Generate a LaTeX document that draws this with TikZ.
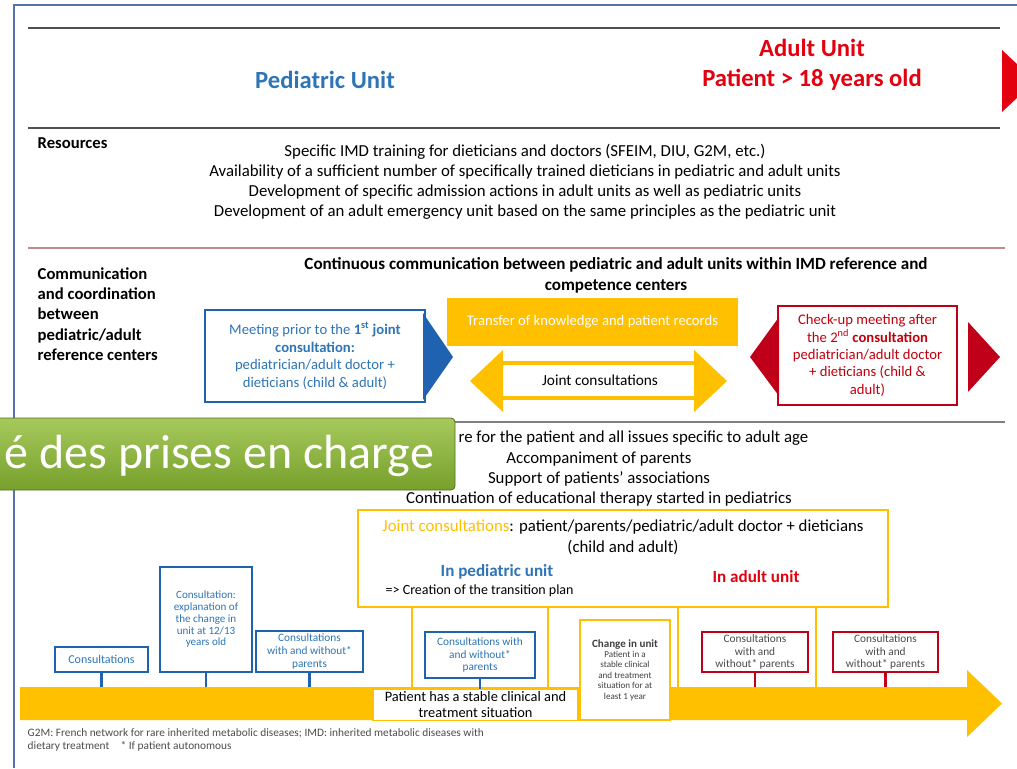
\documentclass[tikz,border=0pt]{standalone}
\usepackage{fontspec}
\setmainfont{Carlito}
\usetikzlibrary{positioning}

\definecolor{pedblue}{HTML}{2E75B6}
\definecolor{boxblue}{HTML}{1F62B0}
\definecolor{adred}{HTML}{E3000F}
\definecolor{boxred}{HTML}{C00018}
\definecolor{ylw}{HTML}{FFC000}
\definecolor{rulegray}{HTML}{505050}
\definecolor{frameblue}{HTML}{5573A8}
\definecolor{rosy}{HTML}{C28A8A}
\definecolor{bangreenlt}{HTML}{A6C95C}
\definecolor{bangreendk}{HTML}{77A02C}

\tikzset{
  hrule/.style={line width=1.4pt, rulegray},
  pedbox/.style={draw=boxblue, line width=1.6pt, fill=white, text=pedblue, align=center, inner sep=1pt},
  adbox/.style={draw=boxred, line width=1.6pt, fill=white, text=black!70, align=center, inner sep=1pt},
  ylwbox/.style={draw=ylw, line width=2pt, fill=white, align=center, inner sep=1pt},
  sz/.style 2 args={minimum width=#1*0.75pt, minimum height=#2*0.75pt},
  tiny/.style={font=\fontsize{8.5}{9.5}\selectfont},
  boxtxt/.style={font=\fontsize{11}{13.3}\selectfont},
}

\begin{document}
\begin{tikzpicture}[x=0.75pt, y=-0.75pt, font=\fontsize{12.6}{15}\selectfont]
\useasboundingbox (0,0) rectangle (1017,768);
\clip (0,0) rectangle (1017,768);

% frame and rules
\draw[frameblue, line width=1.2pt] (1017,5) -- (14,5) -- (14,768);
\draw[hrule] (28,28) -- (1000,28);
\draw[hrule] (28,128) -- (1000,128);
\draw[rosy, line width=0.8pt] (28,248) -- (1005,248);
\draw[gray, line width=0.8pt] (28,422) -- (1005,422);

% header
\node[pedblue, font=\bfseries\fontsize{18.5}{22}\selectfont] (pedunit) at (325,80) {Pediatric Unit};
\node[adred, align=center, font=\bfseries\fontsize{18.5}{22.5}\selectfont] (adunit) at (812,65) {Adult Unit\\Patient > 18 years old};
\fill[adred] (1002,50) -- (1035,81) -- (1002,112) -- cycle;

% resources
\node[anchor=north west, font=\bfseries\fontsize{12.5}{15}\selectfont] (reslbl) at (33,133) {Resources};
\node[align=center] (res) at (525,182) {Specific IMD training for dieticians and doctors (SFEIM, DIU, G2M, etc.)\\
  Availability of a sufficient number of specifically trained dieticians in pediatric and adult units\\
  Development of specific admission actions in adult units as well as pediatric units\\
  Development of an adult emergency unit based on the same principles as the pediatric unit};

% communication
\node[anchor=north west, align=left, font=\bfseries\fontsize{12.5}{15.2}\selectfont] (comlbl) at (33,263) {Communication\\and coordination\\between\\pediatric/adult\\reference centers};
\node[align=center, font=\bfseries\fontsize{12.8}{15.7}\selectfont] (contcom) at (616,275) {Continuous communication between pediatric and adult units within IMD reference and\\competence centers};

\node[pedbox, sz={220}{92}, boxtxt] (meet) at (315,356)
  {Meeting prior to the \textbf{1\textsuperscript{st} joint}\\\textbf{consultation:}\\pediatrician/adult doctor +\\dieticians (child \& adult)};
\fill[boxblue] (423,313) -- (453,357) -- (423,400) -- cycle;

\node[fill=ylw, text=white, sz={291}{48}, boxtxt] (transfer) at (592.5,322) {Transfer of knowledge and patient records};

\fill[ylw] (470,381) -- (503,350) -- (503,412) -- cycle;
\fill[ylw] (727,381) -- (694,350) -- (694,412) -- cycle;
\draw[ylw, line width=3pt] (501,363) -- (696,363);
\draw[ylw, line width=3pt] (501,398) -- (696,398);
\node[font=\fontsize{11.5}{13}\selectfont] (jointc) at (600,380.5) {Joint consultations};

\node[adbox, text=adred!85!black, sz={179}{99}, font=\fontsize{11}{13}\selectfont] (checkup) at (867.5,355.5)
  {Check-up meeting after\\the 2\textsuperscript{nd} \textbf{consultation}\\pediatrician/adult doctor\\+ dieticians (child \&\\adult)};
\fill[boxred] (779,317) -- (750,357) -- (779,396) -- cycle;
\fill[boxred] (968,322) -- (1000,357) -- (968,392) -- cycle;

% patient and family
\node[anchor=east] (care) at (813,438) {re for the patient and all issues specific to adult age};
\node (parents) at (599,459) {Accompaniment of parents};
\node (assoc) at (599,479) {Support of patients' associations};
\node (edu) at (599,499) {Continuation of educational therapy started in pediatrics};

\shade[top color=bangreenlt, bottom color=bangreendk, draw=bangreendk!70!black, line width=0.6pt, rounded corners=3pt]
  (-10,418) rectangle (455,490);
\node[anchor=base west, text=white, font=\fontsize{36}{40}\selectfont] (banner) at (0,468) {é des prises en charge};

% joint consultations box
\node[ylwbox, line width=2.2pt, sz={530}{97}, inner sep=0pt] (jbox) at (623,558.5) {};
\node[align=center, font=\fontsize{12.6}{15.7}\selectfont] (jtxt) at (623,537) {\textcolor{ylw}{Joint consultations}: patient/parents/pediatric/adult doctor + dieticians\\(child and adult)};
\node[pedblue, font=\bfseries\fontsize{12.8}{14}\selectfont] (inped) at (497,572) {In pediatric unit};
\node[anchor=west, font=\fontsize{10.5}{13}\selectfont] (plan) at (381,591) {=> Creation of the transition plan};
\node[adred, font=\bfseries\fontsize{12.8}{14}\selectfont] (inad) at (756,577) {In adult unit};
\foreach \xx in {412,548,678,816}
  \draw[ylw, line width=2.2pt] (\xx,607) -- (\xx,690);

% timeline
\fill[ylw] (20,687) -- (967,687) -- (967,670) -- (1002,703.5) -- (967,737) -- (967,720) -- (20,720) -- cycle;
\coordinate (tl) at (0,687);

\node[pedbox, sz={93}{25}, font=\fontsize{9}{11}\selectfont] (cons1) at (101.5,659.5) {Consultations};
\node[pedbox, sz={92}{105}, font=\fontsize{8.3}{8.8}\selectfont] (expl) at (206,619.5) {Consultation:\\explanation of\\the change in\\unit at 12/13\\years old};
\node[pedbox, sz={107}{41}, tiny] (cons2) at (309.5,651.5) {Consultations\\with and without*\\parents};
\node[pedbox, sz={110}{46}, tiny] (cons3) at (480,655) {Consultations with\\and without*\\parents};

\node[ylwbox, line width=0.9pt, sz={205}{31}, font=\fontsize{10.8}{12}\selectfont] (stable) at (475.5,705) {Patient has a stable clinical and\\treatment situation};
\node[ylwbox, line width=2pt, sz={90}{100}, font=\fontsize{6.8}{7.8}\selectfont, text=black!75] (change) at (625,670)
  {\textbf{\fontsize{8.3}{9.5}\selectfont Change in unit}\\Patient in a\\stable clinical\\and treatment\\situation for at\\least 1 year};

\node[adbox, sz={106}{40}, tiny] (cons4) at (755,652) {Consultations\\with and\\without* parents};
\node[adbox, sz={105}{40}, tiny] (cons5) at (885.5,652) {Consultations\\with and\\without* parents};

\draw[boxblue, line width=1.6pt] (cons1.south) -- (cons1.south |- tl);
\draw[boxblue, line width=1.6pt] (expl.south) -- (expl.south |- tl);
\draw[boxblue, line width=1.6pt] (cons2.south) -- (cons2.south |- tl);
\draw[boxblue, line width=1.6pt] (cons3.south) -- (stable.north -| cons3.south);
\draw[boxred, line width=1.6pt] (cons4.south) -- (cons4.south |- tl);
\draw[boxred, line width=1.6pt] (cons5.south) -- (cons5.south |- tl);

% footnote
\node[anchor=north west, align=left, text=black!70, font=\fontsize{8.5}{9.75}\selectfont] (fnote) at (23,724)
  {G2M: French network for rare inherited metabolic diseases; IMD: inherited metabolic diseases with\\dietary treatment\quad * If patient autonomous};
\end{tikzpicture}
\end{document}
